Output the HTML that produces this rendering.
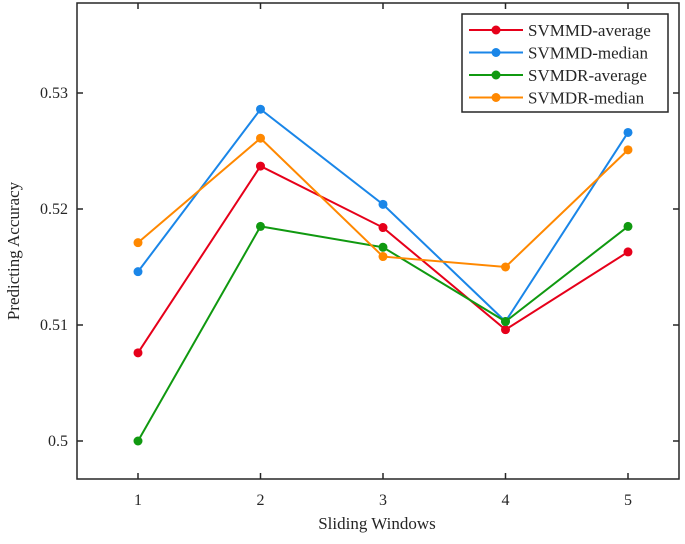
<!DOCTYPE html>
<html><head><meta charset="utf-8"><style>
body{margin:0;background:#fff}
svg text{font-family:"Liberation Serif",serif;fill:#262626}
</style></head><body>
<svg id="c" width="685" height="539"></svg>
<script>
const categories=[1,2,3,4,5];
const yTicks=[0.5,0.51,0.52,0.53];
const yTickLabels=["0.5","0.51","0.52","0.53"];
const svmmdAverage=[0.5076,0.5237,0.5184,0.5096,0.5163];
const svmmdMedian=[0.5146,0.5286,0.5204,0.5103,0.5266];
const svmdrAverage=[0.5000,0.5185,0.5167,0.5103,0.5185];
const svmdrMedian=[0.5171,0.5261,0.5159,0.5150,0.5251];
const seriesNames=["SVMMD-average","SVMMD-median","SVMDR-average","SVMDR-median"];
const seriesData=[svmmdAverage,svmmdMedian,svmdrAverage,svmdrMedian];
const colors=["#e6001a","#1a86e8","#109910","#ff8800"];
const NS="http://www.w3.org/2000/svg";
const svg=document.getElementById('c');
const L=77,R=679,T=3,B=479;
const xS=v=>138+(v-1)*122.5;
const yS=v=>441-(v-0.5)*11600;
function mk(tag,attrs,parent){const e=document.createElementNS(NS,tag);for(const k in attrs)e.setAttribute(k,attrs[k]);(parent||svg).appendChild(e);return e;}
const box=mk('rect',{x:L,y:T,width:R-L,height:B-T,fill:'none',stroke:'#262626','stroke-width':1.5});


categories.forEach(c=>{
  const x=xS(c);
  mk('line',{x1:x,x2:x,y1:B,y2:B-6,stroke:'#262626','stroke-width':1.5});
  mk('line',{x1:x,x2:x,y1:T,y2:T+6,stroke:'#262626','stroke-width':1.5});
  const t=mk('text',{x:x,y:505,'text-anchor':'middle','font-size':16});t.textContent=c;
  
  
});
yTicks.forEach((v,i)=>{
  const y=yS(v);
  mk('line',{x1:L,x2:L+6,y1:y,y2:y,stroke:'#262626','stroke-width':1.5});
  mk('line',{x1:R,x2:R-6,y1:y,y2:y,stroke:'#262626','stroke-width':1.5});
  const t=mk('text',{x:68,y:y+5,'text-anchor':'end','font-size':16});t.textContent=yTickLabels[i];
  
  
});
const xt=mk('text',{x:377,y:529,'text-anchor':'middle','font-size':17});xt.textContent='Sliding Windows';


const yt=mk('text',{x:0,y:0,'text-anchor':'middle','font-size':17,transform:'translate(19,251) rotate(-90)'});yt.textContent='Predicting Accuracy';


seriesData.forEach((d,si)=>{
  const g=mk('g',{});
  
  
  mk('polyline',{points:d.map((v,i)=>xS(categories[i])+','+yS(v)).join(' '),fill:'none',stroke:colors[si],'stroke-width':2},g);
  d.forEach((v,i)=>{
    const p=mk('circle',{cx:xS(categories[i]),cy:yS(v),r:4.5,fill:colors[si]},g);
    
    
  });
});
const lg=mk('g',{});


mk('rect',{x:462,y:14,width:206,height:98,fill:'#fff',stroke:'#262626','stroke-width':1.5},lg);
seriesNames.forEach((n,i)=>{
  const y=30+i*22.5;
  const e=mk('g',{},lg);
  
  
  mk('line',{x1:469,x2:523,y1:y,y2:y,stroke:colors[i],'stroke-width':2},e);
  mk('circle',{cx:496,cy:y,r:4.5,fill:colors[i]},e);
  const t=mk('text',{x:528,y:y+6,'font-size':17},e);t.textContent=n;
});
</script>
</body></html>
